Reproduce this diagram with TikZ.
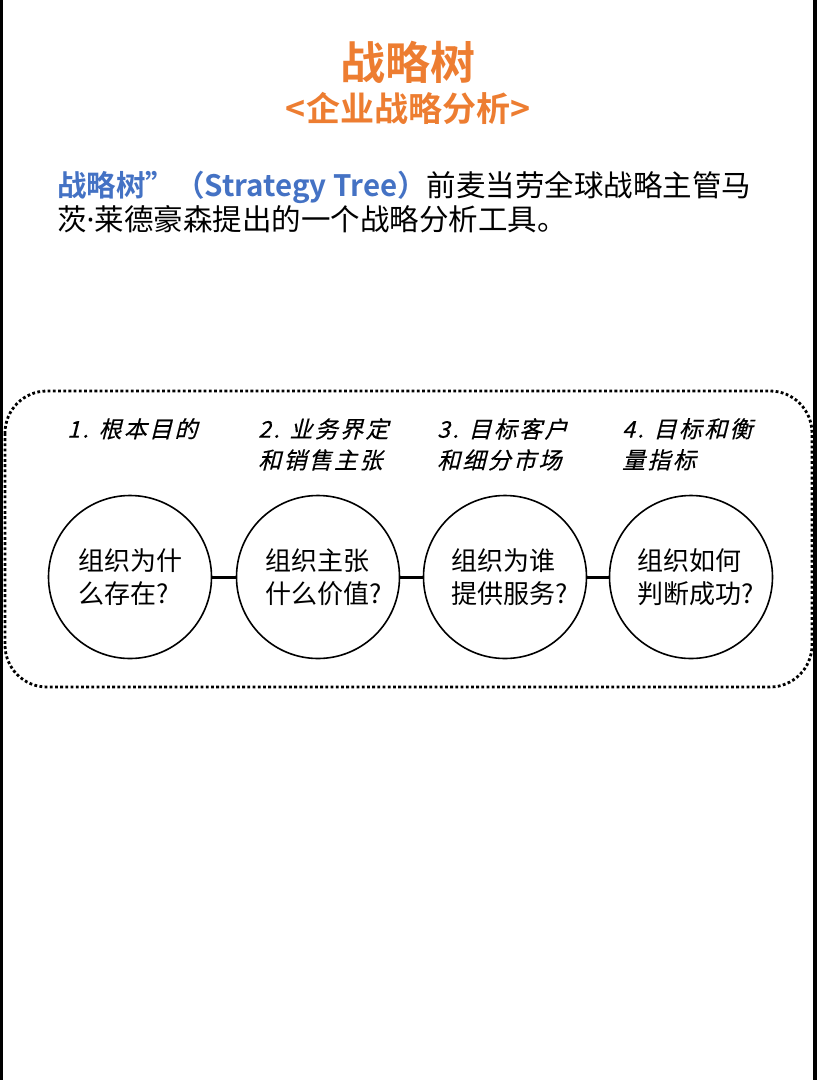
\documentclass[tikz,border=0pt]{standalone}
\usepackage{fontspec}
\newfontfamily\cjk{Noto Sans CJK SC}
\newfontfamily\cjkb{Noto Sans CJK SC Bold}
\newfontfamily\cjki[FakeSlant=0.25,LetterSpace=10,FakeBold=0.3]{Noto Sans CJK SC}
\newfontfamily\latin{Noto Sans}
\definecolor{orng}{HTML}{ED7D31}
\definecolor{blu}{HTML}{4472C4}
\begin{document}
\begin{tikzpicture}[x=1pt,y=-1pt,
  circ/.style={circle,draw,line width=1.6pt,minimum size=163pt,inner sep=0pt},
  qtext/.style={font=\cjk\fontsize{26}{33}\selectfont,align=left,inner sep=0pt,anchor=west},
  lab/.style={font=\cjki\fontsize{23}{31}\selectfont,align=left,inner sep=0pt,anchor=north west},
  link/.style={line width=3pt},
  para/.style={inner sep=0pt,anchor=west}]
\useasboundingbox (0,0) rectangle (817,1080);
\fill[white] (0,0) rectangle (817,1080);
\fill[black] (0,0) rectangle (3,1080);
\fill[black] (813,0) rectangle (817,1080);
% titles
\node[inner sep=0pt,text=orng,font=\cjkb\fontsize{45}{50}\selectfont] (title) at (408,62) {战略树};
\node[inner sep=0pt,text=orng,font=\cjkb\fontsize{34}{40}\selectfont] (sub) at (408,108) {<企业战略分析>};
% paragraph
\node[para,font=\cjk\fontsize{29.5}{34}\selectfont] (p1) at (57,187) {{\cjkb\color{blu}战略树”（Strategy Tree）}前麦当劳全球战略主管马};
\node[para,font=\cjk\fontsize{29.5}{34}\selectfont] (p2) at (57,219) {茨{\latin ·}莱德豪森提出的一个战略分析工具。};
% dotted frame
\draw[line width=2.8pt,dash pattern=on 2.8pt off 2.4pt,rounded corners=42pt] (5,391) rectangle (812,687);
% labels
\node[lab] (l1) at (67,418) {1. 根本目的};
\node[lab] (l2) at (258,418) {2. 业务界定\\和销售主张};
\node[lab] (l3) at (437,418) {3. 目标客户\\和细分市场};
\node[lab] (l4) at (622,418) {4. 目标和衡\\量指标};
% circles
\node[circ] (c1) at (130,577) {};
\node[circ] (c2) at (318,577) {};
\node[circ] (c3) at (505,577) {};
\node[circ] (c4) at (691,577) {};
\draw[link] (c1.east) -- (c2.west);
\draw[link] (c2.east) -- (c3.west);
\draw[link] (c3.east) -- (c4.west);
\node[qtext] (t1) at (78,577) {组织为什\\么存在?};
\node[qtext] (t2) at (265,577) {组织主张\\什么价值?};
\node[qtext] (t3) at (451,577) {组织为谁\\提供服务?};
\node[qtext] (t4) at (637,577) {组织如何\\判断成功?};
\end{tikzpicture}
\end{document}
